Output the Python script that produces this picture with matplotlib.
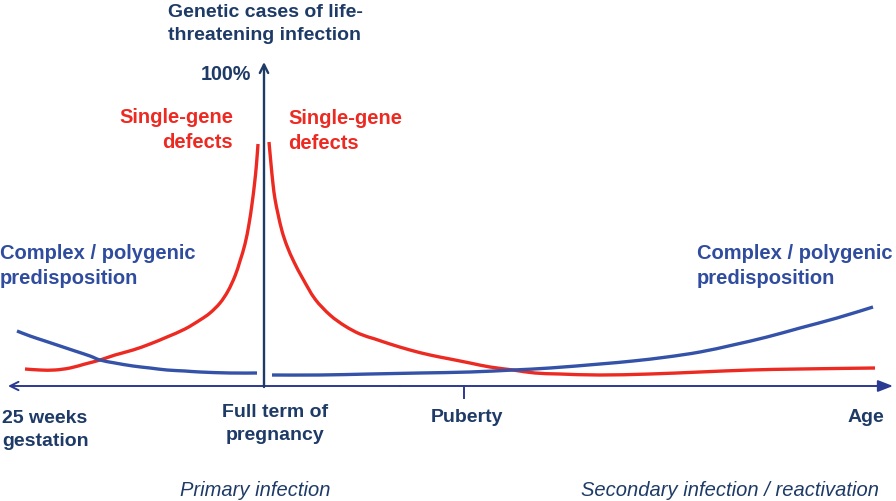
import numpy as np
import matplotlib.pyplot as plt
from matplotlib.path import Path
from matplotlib.patches import PathPatch

# Conceptual diagram: genetic share of life-threatening infection vs age
# coordinates, x = position along the age axis,
# py = pixel row in the picture (converted to height above the axis below)
BASE = 387

red_left_x = [25, 40, 55, 70, 85, 100, 115, 133, 150, 167, 185, 200, 210, 220,
              228, 235, 240, 245, 249, 252, 254.5, 256.5, 258]
red_left_py = [370, 371, 371, 369, 365, 361, 356, 351, 345, 338, 330, 321, 314, 304,
               292, 277, 262, 245, 225, 205, 185, 165, 145]

red_right_x = [269, 271, 273, 275, 278, 282, 287, 294, 303, 315, 330, 345, 360, 375, 390,
               410, 430, 450, 470, 490, 513, 535, 560, 600, 650, 700, 750, 800, 875]
red_right_py = [143, 165, 185, 200, 215, 232, 247, 263, 280, 300, 316, 327, 335, 340, 345,
                351, 356, 360, 364, 368, 371, 374, 375, 376, 375, 373, 371, 370, 369]

blue_left_x = [17, 30, 45, 60, 75, 90, 100, 115, 133, 150, 167, 185, 200, 230, 257]
blue_left_py = [332, 337, 342, 347, 352, 357, 361, 364, 367, 369, 371, 372, 373, 374, 374]

blue_right_x = [272, 320, 370, 420, 470, 513, 550, 600, 633, 667, 700, 733, 767, 800, 837, 873]
blue_right_py = [376, 376, 375, 374, 373, 371, 369, 365, 362, 358, 353, 346, 338, 329, 319, 308]

milestones = ["25 weeks\ngestation", "Full term of\npregnancy", "Puberty", "Age"]
phases = ["Primary infection", "Secondary infection / reactivation"]

RED = "#ec2a22"
BLUE = "#3352a8"
TXTBLUE = "#2f4c9e"
NAVY = "#1e3a66"
AXBLUE = "#2b3a92"


def h(py):
    return BASE - np.asarray(py, dtype=float)


def smooth_path(x, y):
    # Catmull-Rom through the read points, drawn as cubic Bezier segments
    p = np.column_stack([x, y]).astype(float)
    verts = [p[0]]
    codes = [Path.MOVETO]
    for i in range(len(p) - 1):
        p0 = p[i - 1] if i > 0 else p[i]
        p3 = p[i + 2] if i + 2 < len(p) else p[i + 1]
        c1 = p[i] + (p[i + 1] - p0) / 6
        c2 = p[i + 1] - (p3 - p[i]) / 6
        verts += [c1, c2, p[i + 1]]
        codes += [Path.CURVE4] * 3
    return Path(verts, codes)


def main():
    fig = plt.figure(figsize=(8.96, 5.02), dpi=100)
    ax = fig.add_axes([0, 0, 1, 1])
    ax.set_xlim(0, 896)
    ax.set_ylim(BASE - 502, BASE)
    ax.axis("off")

    ### curves ##################################################################
    for xs, ys, col in [(red_left_x, red_left_py, RED), (red_right_x, red_right_py, RED),
                        (blue_left_x, blue_left_py, BLUE), (blue_right_x, blue_right_py, BLUE)]:
        ax.add_patch(PathPatch(smooth_path(xs, h(ys)), facecolor="none", edgecolor=col,
                               lw=2.4, capstyle="butt"))

    ### axes ####################################################################
    ax.annotate("", xy=(893, 0), xytext=(400, 0),
                arrowprops=dict(arrowstyle="-|>,head_length=0.9,head_width=0.35",
                                color=AXBLUE, lw=1.4, shrinkA=0, shrinkB=0))
    ax.annotate("", xy=(8, 0), xytext=(400, 0),
                arrowprops=dict(arrowstyle="->,head_length=0.6,head_width=0.3",
                                color=AXBLUE, lw=1.4, shrinkA=0, shrinkB=0))
    ax.annotate("", xy=(264, BASE - 63), xytext=(264, -1),
                arrowprops=dict(arrowstyle="->,head_length=0.6,head_width=0.3",
                                color=NAVY, lw=1.7, shrinkA=0, shrinkB=0))
    ax.plot([464, 464], [0, -12], color=AXBLUE, lw=1.4)

    ### labels ##################################################################
    bold = dict(fontweight="bold", family=["Liberation Sans", "DejaVu Sans"],
                linespacing=1.4)
    ax.text(265, BASE - 24, "Genetic cases of life-\nthreatening infection", color=NAVY,
            fontsize=14, ha="center", va="center", **bold)
    ax.text(251, BASE - 75, "100%", color=NAVY, fontsize=14.2, ha="right", va="center", **bold)

    ax.text(233, BASE - 130, "Single-gene\ndefects", color=RED, fontsize=14.5,
            ha="right", va="center", **bold)
    ax.text(288, BASE - 131, "Single-gene\ndefects", color=RED, fontsize=14.5,
            ha="left", va="center", **bold)

    ax.text(0, BASE - 266, "Complex / polygenic\npredisposition", color=TXTBLUE,
            fontsize=14.5, ha="left", va="center", **bold)
    ax.text(697, BASE - 266, "Complex / polygenic\npredisposition", color=TXTBLUE,
            fontsize=14.5, ha="left", va="center", **bold)

    ax.text(2, BASE - 430, milestones[0], color=NAVY, fontsize=14, ha="left",
            va="center", **bold)
    ax.text(275, BASE - 424, milestones[1], color=NAVY, fontsize=14, ha="center",
            va="center", **bold)
    ax.text(467, BASE - 418, milestones[2], color=NAVY, fontsize=14, ha="center",
            va="center", **bold)
    ax.text(884, BASE - 418, milestones[3], color=NAVY, fontsize=14, ha="right",
            va="center", **bold)

    ital = dict(fontstyle="italic", family=["Liberation Sans", "DejaVu Sans"])
    ax.text(255, BASE - 491, phases[0], color=NAVY, fontsize=14.5, ha="center",
            va="center", **ital)
    ax.text(730, BASE - 491, phases[1], color=NAVY, fontsize=14.5, ha="center",
            va="center", **ital)

    fig.savefig("out.png", dpi=100)


if __name__ == "__main__":
    main()
